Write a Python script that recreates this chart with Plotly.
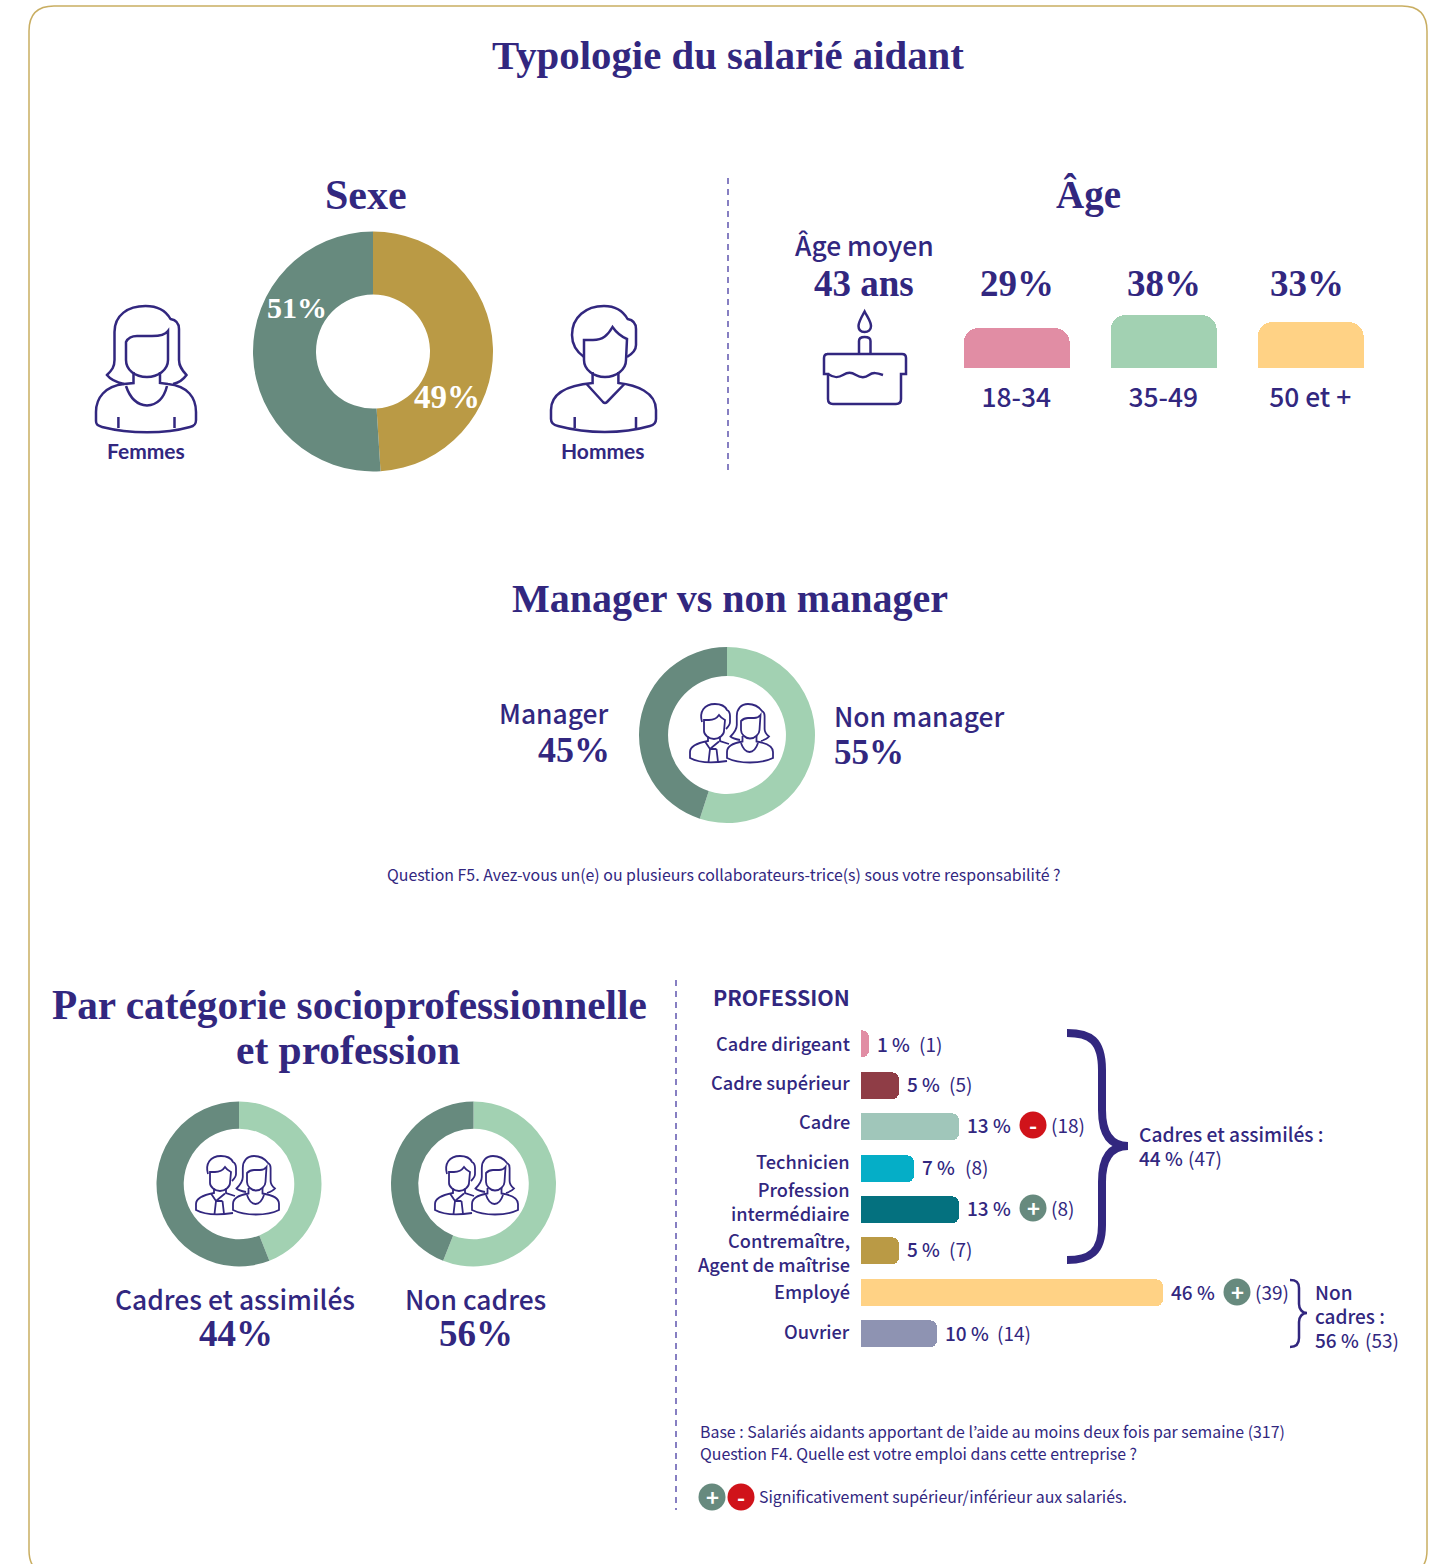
import re
import plotly.graph_objects as go

W, H = 1443, 1564
NAVY = "#32277F"
SERIF = "Liberation Serif"
SANS = "Noto Sans CJK KR"

# ---------- data ----------
sexe_labels = ["Hommes", "Femmes"]
sexe_values = [49, 51]
manager_labels = ["Non manager", "Manager"]
manager_values = [55, 45]
cadres_labels = ["Cadres et assimilés", "Autres"]
cadres_values = [44, 56]
noncadres_labels = ["Non cadres", "Autres"]
noncadres_values = [56, 44]

age_labels = ["18-34", "35-49", "50 et +"]
age_values = [29, 38, 33]
age_pct_text = ["29%", "38%", "33%"]

profession_labels = ["Cadre dirigeant", "Cadre supérieur", "Cadre", "Technicien",
                     "Profession<br>intermédiaire", "Contremaître,<br>Agent de maîtrise",
                     "Employé", "Ouvrier"]
# Bar lengths as drawn in the source (the Employé bar is drawn at about 40 although labelled 46 %)
profession_bars = [1, 5, 13, 7, 13, 5, 40, 10]
profession_pct = ["1 %", "5 %", "13 %", "7 %", "13 %", "5 %", "46 %", "10 %"]
profession_counts = ["(1)", "(5)", "(18)", "(8)", "(8)", "(7)", "(39)", "(14)"]
profession_badges = ["", "", "-", "", "+", "", "+", ""]

# ---------- styles ----------
GREEN_D = "#678A7E"
GOLD = "#BA9A45"
GREEN_L = "#A2D1B2"
RED = "#D0131A"
age_colors = ["#E18DA4", "#A2D1B2", "#FFD285"]
prof_colors = ["#E18DA4", "#8F3D46", "#A0C6BA", "#05AEC7", "#04717F", "#BA9A45", "#FFD285", "#8E93B2"]


def fx(x):
    return x / W


def fy(y):
    return 1 - y / H


fig = go.Figure()
# full-page pixel overlay for decoration and text
fig.add_trace(go.Scatter(x=[0], y=[0], mode="none", hoverinfo="skip", showlegend=False))


def donut(labels, values, colors, cx, cy, r, hole):
    fig.add_trace(go.Pie(labels=labels, values=values, hole=hole, sort=False, direction="clockwise",
                         rotation=0, marker=dict(colors=colors, line=dict(width=0)), textinfo="none",
                         hoverinfo="label+percent", showlegend=False,
                         domain=dict(x=[fx(cx - r), fx(cx + r)], y=[fy(cy + r), fy(cy - r)])))


donut(sexe_labels, sexe_values, [GOLD, GREEN_D], 373, 351.5, 120, 0.475)
donut(manager_labels, manager_values, [GREEN_L, GREEN_D], 727, 735, 88, 0.67)
donut(cadres_labels, cadres_values, [GREEN_L, GREEN_D], 239, 1184, 82.5, 0.67)
donut(noncadres_labels, noncadres_values, [GREEN_L, GREEN_D], 473.5, 1184, 82.5, 0.67)

# age bars
fig.add_trace(go.Bar(x=age_labels, y=age_values, xaxis="x2", yaxis="y2", width=106 / 147,
                     marker=dict(color=age_colors, cornerradius=15, line=dict(width=0)),
                     hoverinfo="x+y", showlegend=False))
# profession bars
fig.add_trace(go.Bar(y=[l.replace("<br>", " ") for l in profession_labels], x=profession_bars, orientation="h",
                     xaxis="x3", yaxis="y3", width=27 / 41.43,
                     marker=dict(color=prof_colors, cornerradius=7, line=dict(width=0)),
                     hoverinfo="y+x", showlegend=False))

annotations = []


def text(x, y, s, size=19, font=SANS, color=NAVY, anchor="left", weight=400):
    dx = {"left": -1.5, "right": 1, "center": 0}[anchor]
    annotations.append(dict(x=x + dx, y=y - 1.5, xref="x", yref="y", text=s, showarrow=False, xanchor=anchor,
                            yanchor="middle", borderpad=0, align=anchor,
                            font=dict(family=font, size=size, color=color, weight=weight)))


def head(x, y, s, size=40.5):
    text(x, y + 1, s, size=size, font=SERIF, anchor="center", weight=700)


def big(x, y, s, anchor="center", color=NAVY, size=37):
    text(x, y + 1, s, size=size, font=SERIF, anchor=anchor, color=color, weight=700)


head(727.5, 56, "Typologie du salarié aidant", 40.8)
head(366, 195, "Sexe", 42)
head(1088, 195, "Âge", 39)
head(730, 599, "Manager vs non manager", 40)
head(349, 1005, "Par catégorie socioprofessionnelle", 41.3)
head(348, 1050, "et profession", 41.5)

big(297, 308, "51%", color="white", size=30)
big(447, 397, "49%", color="white", size=33)
text(146, 452, "Femmes", 21, "Lato", anchor="center", weight=700)
text(602.5, 452, "Hommes", 21, "Lato", anchor="center", weight=700)

text(864, 246, "Âge moyen", 26.4, anchor="center", weight=500)
big(864, 284, "43 ans")
for xc, s in zip([1017, 1164, 1307], age_pct_text):
    big(xc, 284, s)

text(608, 714, "Manager", 26.4, anchor="right", weight=500)
big(610, 750, "45%", anchor="right", size=36)
text(834, 717, "Non manager", 26.4, weight=500)
big(834, 753, "55%", anchor="left", size=35)
text(724, 876, "Question F5. Avez-vous un(e) ou plusieurs collaborateurs-trice(s) sous votre responsabilité ?",
     15.9, anchor="center")

text(235, 1300, "Cadres et assimilés", 26.4, anchor="center", weight=500)
big(236, 1334, "44%")
text(475, 1300, "Non cadres", 26.4, anchor="center", weight=500)
big(476, 1334, "56%")

text(713, 998, "PROFESSION", 21.4, weight=700)

label_y = [1044, 1083, 1122, 1162, 1202, 1253, 1292, 1332]
for lab, y in zip(profession_labels, label_y):
    text(850, y, lab, 18.2, anchor="right", weight=500)

pct_x = [877, 907, 967, 922, 967, 907, 1171, 945]
cnt_x = [919, 949, 1051, 965, 1051, 949, 1255, 997]
val_y = [1045, 1085, 1126, 1168, 1209, 1250, 1293, 1334]
badge_x = {2: 1033, 4: 1033, 6: 1237}
for i, (p, c, b) in enumerate(zip(profession_pct, profession_counts, profession_badges)):
    text(pct_x[i], val_y[i], p, 19, weight=500)
    text(cnt_x[i], val_y[i], c, 19)

text(1139, 1135, "Cadres et assimilés :", 19.2, weight=500)
text(1139, 1159, "44 %", 19, weight=500)
text(1188, 1159, "(47)", 19)
text(1315, 1293, "Non", 19, weight=500)
text(1315, 1317, "cadres :", 19, weight=500)
text(1315, 1341, "56 %", 19, weight=500)
text(1365, 1341, "(53)", 19)

text(700, 1433, "Base : Salariés aidants apportant de l’aide au moins deux fois par semaine (317)", 15.9)
text(700, 1455, "Question F4. Quelle est votre emploi dans cette entreprise ?", 15.9)
text(759, 1498, "Significativement supérieur/inférieur aux salariés.", 15.9)

shapes = []


def path(d, width=2.5, color=NAVY, fill=None):
    shapes.append(dict(type="path", xref="x", yref="y", path=d, layer="above",
                       line=dict(color=color, width=width), fillcolor=fill or "rgba(0,0,0,0)"))


def badge(cx, cy, sign):
    r = 13.5
    shapes.append(dict(type="circle", xref="x", yref="y", x0=cx - r, x1=cx + r, y0=cy - r, y1=cy + r,
                       layer="above", line=dict(width=0),
                       fillcolor=GREEN_D if sign == "+" else RED))
    text(cx, cy + 0.5, sign, 22, color="white", anchor="center", weight=700)


for i, s in enumerate(profession_badges):
    if s:
        badge(badge_x[i], val_y[i] - 1, s)
badge(712, 1497, "+")
badge(741, 1497, "-")

# frame
path("M54,6 H1402 Q1427,6 1427,31 V1550 Q1427,1575 1402,1575 H54 Q29,1575 29,1550 V31 Q29,6 54,6 Z",
     1.5, "#C9AE62")
# dashed separators
for x, y0, y1 in [(728, 178, 473), (676, 980, 1510)]:
    shapes.append(dict(type="line", xref="x", yref="y", x0=x, x1=x, y0=y0, y1=y1, layer="above",
                       line=dict(color="#7A72BC", width=1.8, dash="6px,5px")))

# braces
path("M1067,1033 C1090,1033 1102,1040 1102,1070 L1102,1110 C1102,1130 1108,1146 1128,1146 "
     "C1108,1146 1102,1162 1102,1182 L1102,1225 C1102,1252 1090,1260 1067,1260", 8)
path("M1290,1280 C1296,1280 1299,1282 1299,1288 L1299,1304 C1299,1309 1302,1313 1307,1313 "
     "C1302,1313 1299,1317 1299,1322 L1299,1338 C1299,1344 1296,1347 1290,1347", 2.5)

# woman icon
path("M124,384 C115,382 110,379 107,375 C112,370 114.5,367 114.5,360 L114.5,332 C114.5,315 128,306 145.5,306 "
     "C157,306 166,311 170.5,319 C176,320 179,323 179,329 L179,360 C179,367 183,371 186.5,375 "
     "C183,380 178,383 173,384")
path("M126,342 C128,338 132,336 137,336 L152,336 C160,336 165,335 168,331 L168,360 C168,370 158,377 147,377 "
     "C135,377 126,370 126,360 Z")
path("M133.5,372 L133.5,383 L124,384 C105,386 96,398 96,412 L96,421 C96,425 98,425 102,427 "
     "C130,434 165,434 190,427 C195,426 196,424 196,420 L196,412 C196,398 188,386 168,384 L160,383 L160,372")
path("M126,386 C130,398 137,405 147,405.5 C157,405 164,398 167,386")
path("M118.4,417 L118.4,428 M174.5,417 L174.5,428")

# man icon
path("M584,357 C577,352 572,345 572,335 C572,317 586,306 604,306 C615,306 623,311 627.6,319 "
     "C633,320 636,323 636,329 L636,345 C636,350 632,354 627,357")
path("M584,340 L593,340 C603,340 608,335 612.5,327 C616,332 620,336 627,339 L626,360 C626,370 616,377 605,377 "
     "C594,377 584,370 584,360 Z")
path("M592.6,372 L592.6,383 C570,385 551,392 551,410 L551,419 C551,423 553,425 558,426 C588,434 622,434 650,426 "
     "C654,425 656,423 656,419 L656,410 C656,392 636,385 618.4,383 L618.4,372")
path("M586.6,384 L603,402 Q605,404 607,402 L624.4,384")
path("M574.7,417 L574.7,428 M636,417 L636,428")

# cake icon
path("M864.6,311.5 C861,318 858.5,322 858.5,326 C858.5,330 861,332 864.6,332 C868,332 871,330 871,326 "
     "C871,322 868,318 864.6,311.5 Z")
path("M859,354 L859,341 C859,338 861,337 864.6,337 C868,337 870.5,338 870.5,341 L870.5,354")
path("M827,354 L902,354 Q906,354 906,358 L906,374 L901,374 L901,399 Q901,404 896,404 L833,404 Q828,404 828,399 "
     "L828,374 L824,374 L824,358 Q824,354 828,354")
path("M828,374 C834,378 838,378 843,375 C848,372 851,372 856,375 C861,378 865,378 869,375 C873,372 877,373 883,375")

# couple icon (in manager-donut position, translated for the other two)
couple = [
    "M703,722 C700,712 705,704 716,704 C722,704 726,706 728,710 C730,711 731,713 731,716 L731,722 C731,724 729,727 727,729",
    "M705,720 L710,720 C715,720 718,718 720,715 C722,718 724,719 726,720 L725,731 C725,735 720,739 715,739 C710,739 705,735 705,731 Z",
    "M709,736.5 L709,741 C698,743 691,746 691,752 L691,758 C700,763 715,763 728,761 M721,736.5 L721,741 L730,744",
    "M706,741.5 L711,749 L720,741.5 M711,749 L709.5,762 M717.5,749 L719,762 M711,749 L717.5,749",
    "M741,740 C736,739 733,738 731.5,736.5 C735,733 737.8,730 737.8,725 L737.8,716 C737.8,709 742,704 749,704 C756,704 760,707 763,711 C765,712 765.6,714 765.6,716 L765.6,729 C765.6,732 768,735 770,736.5 C768,739 765,740 762,741",
    "M742,721 C744,719 746,718 749,718 L755,718 C758,718 760,717 761.5,715 L760.5,730 C760.5,734 756,738.5 751,738.5 C746,738.5 742,734 742,730 Z",
    "M743.5,736 L743.5,741.5 C734,743 728,746 728,752 L728,758 C740,764 762,764 774,758 L774,752 C774,746 768,743 757.5,741.5 L757.5,736",
    "M742,743 C744,749 747,752 750.5,752 C754,752 757,749 759,743",
]


def shift(d, dx, dy):
    return re.sub(r"(-?[\d.]+),(-?[\d.]+)", lambda m: f"{float(m[1]) + dx:.1f},{float(m[2]) + dy:.1f}", d)


for dx, dy in [(-1, 0), (-495, 452), (-256, 452)]:
    for d in couple:
        path(shift(d, dx, dy), 1.8)

hidden = dict(visible=False, showgrid=False, zeroline=False, fixedrange=True)
band = 147
b = 41.43
fig.update_layout(
    width=W, height=H, margin=dict(l=0, r=0, t=0, b=0), paper_bgcolor="white", plot_bgcolor="rgba(0,0,0,0)",
    showlegend=False, annotations=annotations, shapes=shapes, bargap=0,
    xaxis=dict(domain=[0, 1], range=[0, W], **hidden),
    yaxis=dict(domain=[0, 1], range=[H, 0], **hidden),
    xaxis2=dict(domain=[fx(1016.2 - 0.5 * band), fx(1016.2 + 2.5 * band)], range=[-0.5, 2.5], type="category",
                anchor="y2", showgrid=False, zeroline=False, showline=False, ticks="outside", ticklen=6,
                tickcolor="rgba(0,0,0,0)", fixedrange=True,
                tickfont=dict(family=SANS, size=26.4, color=NAVY, weight=500)),
    yaxis2=dict(domain=[fy(368), fy(298)], range=[0, 50.4], anchor="x2", **hidden),
    xaxis3=dict(domain=[fx(861), fx(861 + 377.5)], range=[0, 50], anchor="y3", **hidden),
    yaxis3=dict(domain=[fy(1044 + 7.5 * b), fy(1044 - 0.5 * b)], range=[7.5, -0.5], type="category",
                anchor="x3", **hidden),
)
fig.write_html("out.html", post_script="document.body.style.margin='0';document.body.style.overflow='hidden';",
               config=dict(displayModeBar=False))
